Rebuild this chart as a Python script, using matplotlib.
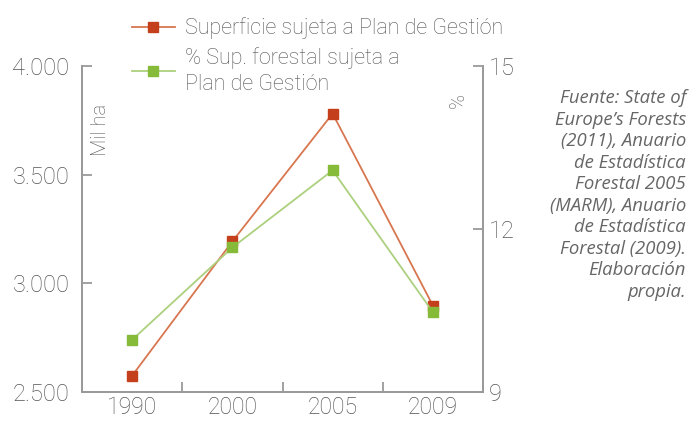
import matplotlib
matplotlib.use("Agg")
import matplotlib.pyplot as plt

years = ["1990", "2000", "2005", "2009"]
superficie = [2575, 3193, 3781, 2898]        # mil ha, left axis
porcentaje = [9.96, 11.66, 13.08, 10.47]     # %, right axis

label_sup = "Superficie sujeta a Plan de Gestión"
label_pct = "% Sup. forestal sujeta a\nPlan de Gestión"
source = ("Fuente: State of\nEurope’s Forests\n(2011), Anuario\nde Estadística\n"
          "Forestal 2005\n(MARM), Anuario\nde Estadística\nForestal (2009).\n"
          "Elaboración\npropia.")

TEXT = "#555555"
SPINE = "#9a9a9a"
RED = "#c4401c"
RED_LINE = "#d8764f"
GREEN = "#86bb3a"
GREEN_LINE = "#acd07e"

plt.rcParams["font.family"] = ["Roboto", "DejaVu Sans"]
plt.rcParams["font.weight"] = "light"


def main():
    fig = plt.figure(figsize=(6.91, 4.21), dpi=100)
    ax = fig.add_axes([82 / 691, 29 / 421, 401 / 691, 326 / 421])
    ax2 = ax.twinx()

    x = list(range(len(years)))
    l1, = ax.plot(x, superficie, color=RED_LINE, lw=1.3, marker="s", ms=6.5,
                  mfc=RED, mec=RED, label=label_sup, zorder=3)
    l2, = ax2.plot(x, porcentaje, color=GREEN_LINE, lw=1.3, marker="s", ms=6.5,
                   mfc=GREEN, mec=GREEN, label=label_pct, zorder=2)

    ax.set_xlim(-0.5, 3.5)
    ax.set_ylim(2500, 4000)
    ax2.set_ylim(9, 15)
    ax.set_yticks([2500, 3000, 3500, 4000])
    ax.set_yticklabels(["2.500", "3.000", "3.500", "4.000"])
    ax2.set_yticks([9, 12, 15])
    ax.set_xticks(x)
    ax.set_xticklabels(years)
    ax.set_xticks([0.5, 1.5, 2.5], minor=True)

    for a in (ax, ax2):
        a.spines["top"].set_visible(False)
        for s in ("left", "right", "bottom"):
            a.spines[s].set_color(SPINE)
            a.spines[s].set_linewidth(1.3)
        a.tick_params(colors=TEXT, labelsize=17)
    ax.tick_params(axis="y", direction="in", length=7, width=1.3, color=SPINE, pad=9)
    ax2.tick_params(axis="y", direction="in", length=7, width=1.3, color=SPINE, pad=4)
    ax.tick_params(axis="x", which="major", length=0, pad=3, labelsize=16.5)
    ax.tick_params(axis="x", which="minor", direction="in", length=7, width=1.3, color=SPINE)

    fig.text(101 / 691, 1 - 130 / 421, "Mil ha", rotation=90, ha="center", va="center",
             fontsize=14.5, color=TEXT)
    fig.text(458 / 691, 1 - 100 / 421, "%", rotation=90, ha="center", va="center",
             fontsize=14.5, color=TEXT)

    leg = fig.legend(handles=[l1, l2], loc="upper left",
                     bbox_to_anchor=(123 / 691, 1 - 9 / 421),
                     frameon=False, fontsize=15.5, labelcolor=TEXT, handlelength=2.0,
                     handletextpad=0.5, labelspacing=0.35, borderaxespad=0)
    for t in leg.get_texts():
        t.set_linespacing(1.3)

    fig.text(686 / 691, 1 - 195 / 421, source, ha="right", va="center", style="italic",
             fontsize=13.3, color="#666666", linespacing=1.25,
             family=["Open Sans", "DejaVu Sans"], fontweight="normal")

    fig.savefig("out.png", dpi=100)
    plt.close(fig)


if __name__ == "__main__":
    main()
